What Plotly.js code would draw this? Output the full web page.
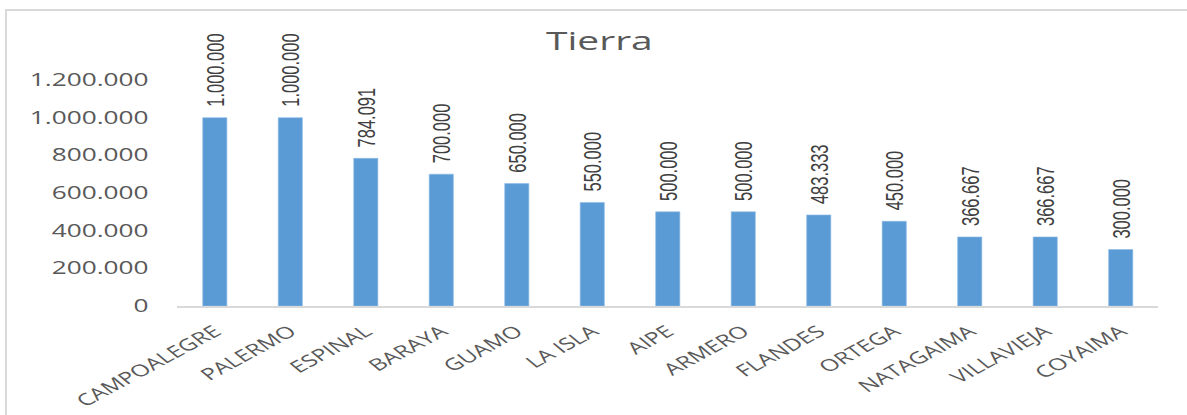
<!DOCTYPE html>
<html>
<head>
<meta charset="utf-8">
<script src="https://cdn.plot.ly/plotly-3.0.1.min.js"></script>
<style>
  html, body { margin: 0; padding: 0; background: #fff; overflow: hidden; }
  #wrap { position: absolute; left: 0; top: 0; width: 1187px; height: 415px; overflow: hidden; }
  #chart { position: absolute; left: 0; top: 0; width: 791px; height: 415px; transform: scaleX(1.5006); transform-origin: 0 0; }
  #frame { position: absolute; left: 5px; top: 9px; width: 1300px; height: 500px; border-top: 2px solid #d9d9d9; border-left: 2px solid #d9d9d9; pointer-events: none; }
</style>
</head>
<body>
<div id="wrap">
  <div id="chart"></div>
  <div id="frame"></div>
</div>
<script>
const categories = ["CAMPOALEGRE", "PALERMO", "ESPINAL", "BARAYA", "GUAMO", "LA ISLA", "AIPE", "ARMERO", "FLANDES", "ORTEGA", "NATAGAIMA", "VILLAVIEJA", "COYAIMA"];
const values = [1000000, 1000000, 784091, 700000, 650000, 550000, 500000, 500000, 483333, 450000, 366667, 366667, 300000];
const yTicks = [0, 200000, 400000, 600000, 800000, 1000000, 1200000];
const chartTitle = "Tierra";

function fmt(n) {
  return String(Math.round(n)).replace(/\B(?=(\d{3})+(?!\d))/g, ".");
}
// leading spaces keep a small gap between bar top and the rotated label
const labels = values.map(v => "\u00a0\u2009" + fmt(v));
const yTickText = yTicks.map(fmt);

const trace = {
  type: "bar",
  x: categories,
  y: values,
  text: labels,
  textposition: "outside",
  textangle: -90,
  constraintext: "none",
  cliponaxis: false,
  textfont: { family: "Liberation Sans, Arial, sans-serif", size: 16.5, color: "#404040" },
  marker: { color: "#5B9BD5", line: { color: "#8fbbe6", width: 0.5 } },
  hoverinfo: "none"
};

const layout = {
  width: 791,
  height: 415,
  margin: { l: 118, r: 19, t: 80, b: 109 },
  paper_bgcolor: "#ffffff",
  plot_bgcolor: "#ffffff",
  showlegend: false,
  bargap: 0.68,
  separators: ",.",
  title: {
    text: chartTitle,
    x: 0.505, xref: "container", xanchor: "center",
    y: 0.902, yref: "container", yanchor: "middle",
    font: { family: "Open Sans, sans-serif", size: 26, color: "#595959" }
  },
  xaxis: {
    type: "category",
    tickangle: -39,
    showline: true,
    linecolor: "#d9d9d9",
    linewidth: 1.5,
    showgrid: false,
    zeroline: false,
    ticks: "",
    ticklabelstandoff: 8,
    tickfont: { family: "Open Sans, sans-serif", size: 16.5, color: "#595959" }
  },
  yaxis: {
    range: [0, 1200000],
    tickvals: yTicks,
    ticktext: yTickText,
    showgrid: false,
    zeroline: false,
    showline: false,
    ticks: "",
    ticklabelstandoff: 18,
    tickfont: { family: "Open Sans, sans-serif", size: 17.5, color: "#595959" }
  }
};

Plotly.newPlot("chart", [trace], layout, { displayModeBar: false, staticPlot: true });
</script>
</body>
</html>
